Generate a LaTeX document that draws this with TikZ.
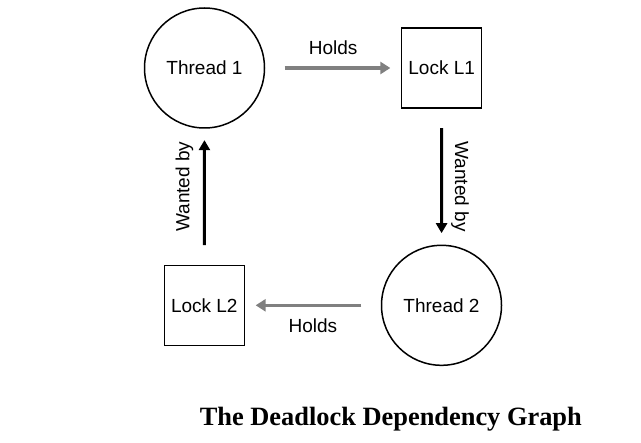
\documentclass[tikz,border=0pt]{standalone}
\usepackage{fontspec}
\setmainfont{Liberation Serif}
\setsansfont{Liberation Sans}
\usepackage{xcolor}
\usepackage{tikz}
\usetikzlibrary{arrows.meta,calc,positioning}
\definecolor{holdgray}{RGB}{128,128,128}

\begin{document}
\begin{tikzpicture}[x=0.5pt,y=-0.5pt,
  every node/.style={font=\sffamily\fontsize{9.5}{11}\selectfont},
  thread/.style={draw,circle,line width=0.75pt,minimum size=60pt,inner sep=0pt},
  lockbox/.style={draw,rectangle,line width=0.75pt,minimum size=40pt,inner sep=0pt},
  holds/.style={draw=holdgray,line width=1.75pt,-{Triangle[length=5pt,width=6pt]},shorten <=9.7pt,shorten >=5.3pt},
  wanted/.style={draw=black,line width=1.5pt,-{Triangle[length=5pt,width=5.5pt]},shorten <=9.7pt,shorten >=5.7pt}]
\useasboundingbox (0,0) rectangle (641,443);
\node[thread] (t1) at (204.5,68) {Thread 1};
\node[lockbox] (l1) at (441.7,68) {Lock L1};
\node[thread] (t2) at (441.5,305.3) {Thread 2};
\node[lockbox] (l2) at (204.3,305.3) {Lock L2};
\draw[holds] (t1) -- node[yshift=10pt] (h1) {Holds} (l1);
\draw[wanted] (l1) -- node[xshift=9.2pt,yshift=-5pt,rotate=-90] (w1) {Wanted by} (t2);
\draw[holds] (t2) -- node[yshift=-10.3pt] (h2) {Holds} (l2);
\draw[wanted] (l2) -- node[xshift=-10pt,yshift=5pt,rotate=90] (w2) {Wanted by} (t1);
\node[anchor=base,font=\rmfamily\bfseries\fontsize{13.2}{15}\selectfont] (cap) at (390.8,425) {The Deadlock Dependency Graph};
\end{tikzpicture}
\end{document}
